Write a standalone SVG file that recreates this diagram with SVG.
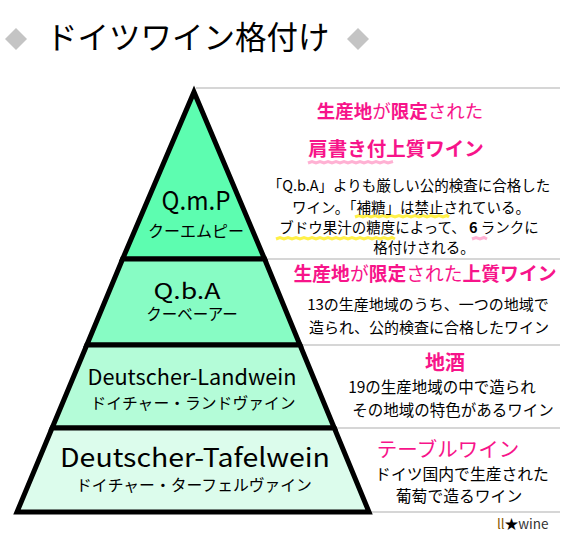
<svg xmlns="http://www.w3.org/2000/svg" width="566" height="539" viewBox="0 0 566 539">
<style>
text{font-family:"Noto Sans CJK JP","Noto Sans",sans-serif;fill:#000}
.tier{stroke:#000;stroke-width:5;stroke-linejoin:miter}
.sep{stroke:#c8c8c8;stroke-width:1.5;fill:none}
.pk{fill:#f7148a}
.b{font-weight:bold}
.mid{text-anchor:middle}
.hlp{stroke:#ff9ec8;stroke-width:3;fill:none;opacity:.8}
.hly{stroke:#ffee33;stroke-width:3;fill:none;opacity:.9}
</style>
<rect width="566" height="539" fill="#fff"/>
<g id="title">
<polygon points="16,28 27,39 16,50 5,39" fill="#c4c4c4"/>
<polygon points="358,28 369,39 358,50 347,39" fill="#c4c4c4"/>
<text x="46" y="49" font-size="31.5">ドイツワイン格付け</text>
</g>
<g id="connectors">
<line class="sep" x1="196" y1="88" x2="560" y2="88"/>
<line class="sep" x1="266" y1="259" x2="560" y2="259"/>
<line class="sep" x1="302" y1="345" x2="560" y2="345"/>
<line class="sep" x1="336" y1="428" x2="560" y2="428"/>
<line class="sep" x1="371" y1="512" x2="560" y2="512"/>
</g>
<g id="tier-qmp">
<polygon class="tier" points="194,92 264.6,259 122.6,259" fill="#5dfdb0"/>
<text class="mid" x="196" y="210" font-size="25" textLength="69" lengthAdjust="spacingAndGlyphs">Q.m.P</text>
<text class="mid" x="196" y="237" font-size="16">クーエムピー</text>
</g>
<g id="tier-qba">
<polygon class="tier" points="122.6,259 264.6,259 300,345 86.8,345" fill="#87fcc4"/>
<text class="mid" x="187" y="299" font-size="22" textLength="67" lengthAdjust="spacingAndGlyphs">Q.b.A</text>
<text class="mid" x="192" y="320" font-size="15.5">クーベーアー</text>
</g>
<g id="tier-landwein">
<polygon class="tier" points="86.8,345 300,345 334.3,428 52.1,428" fill="#b4fcd8"/>
<text class="mid" x="192" y="385" font-size="21" textLength="209" lengthAdjust="spacingAndGlyphs">Deutscher-Landwein</text>
<text class="mid" x="193" y="409" font-size="15.8">ドイチャー・ランドヴァイン</text>
</g>
<g id="tier-tafelwein">
<polygon class="tier" points="52.1,428 334.3,428 369,512 17,512" fill="#dcfcec"/>
<text class="mid" x="195" y="467" font-size="26" textLength="270" lengthAdjust="spacingAndGlyphs">Deutscher-Tafelwein</text>
<text class="mid" x="194" y="491" font-size="15.8">ドイチャー・ターフェルヴァイン</text>
</g>
<g id="desc-qmp">
<path class="hlp" d="M308,163 l4,-1.5 l4,1.5 l4,-1.5 l4,1.5 l4,-1.5 l4,1.5 l4,-1.5 l4,1.5 l4,-1.5 l4,1.5 l4,-1.5 l4,1.5 l4,-1.5 l4,1.5 l4,-1.5 l4,1.5 l4,-1.5 l4,1.5 l4,-1.5 l4,1.5 l5,-1.5"/>
<path class="hly" d="M355,217 l4,-1.5 l4,1.5 l4,-1.5 l4,1.5 l4,-1.5 l4,1.5 l4,-1.5 l4,1.5 l4,-1.5 l4,1.5 l4,-1.5 l4,1.5 l4,-1.5 l4,1.5 l4,-1.5 l4,1.5 l4,-1.5 l4,1.5 l4,-1.5 l4,1.5 l4,-1.5 l4,1.5 l4,-1.5 l2,1.5"/>
<path class="hly" d="M276,239 l4,-1.5 l4,1.5 l4,-1.5 l4,1.5 l4,-1.5 l4,1.5 l4,-1.5 l4,1.5 l4,-1.5 l4,1.5 l4,-1.5 l4,1.5 l4,-1.5 l4,1.5 l4,-1.5 l4,1.5 l4,-1.5 l4,1.5 l4,-1.5 l4,1.5 l4,-1.5 l4,1.5 l4,-1.5 l4,1.5 l4,-1.5 l4,1.5 l4,-1.5 l4,1.5 l4,-1.5 l3,1.5"/>
<path class="hlp" d="M472,239 l4,-1.5 l4,1.5 l4,-1.5 l3,1.5"/>
<text class="mid pk" x="400" y="118" font-size="18.5"><tspan class="b pk">生産地</tspan>が<tspan class="b pk">限定</tspan>された</text>
<text class="mid pk b" x="396" y="156" font-size="19.5">肩書き付上質ワイン</text>
<text class="mid" font-size="14.5"><tspan x="409" y="191">「Q.b.A」よりも厳しい公的検査に合格した</tspan><tspan x="411" y="213">ワイン。「補糖」は禁止されている。</tspan><tspan x="409" y="233">ブドウ果汁の糖度によって、 <tspan class="b">6</tspan> ランクに</tspan><tspan x="424" y="253">格付けされる。</tspan></text>
</g>
<g id="desc-qba">
<text class="mid pk" x="425" y="281" font-size="18.8"><tspan class="b pk">生産地</tspan>が<tspan class="b pk">限定</tspan>された<tspan class="b pk">上質ワイン</tspan></text>
<text class="mid" font-size="15"><tspan x="428" y="310">13の生産地域のうち、一つの地域で</tspan><tspan x="429" y="333">造られ、公的検査に合格したワイン</tspan></text>
</g>
<g id="desc-landwein">
<text class="mid pk b" x="445" y="370" font-size="20">地酒</text>
<text class="mid" font-size="15.5"><tspan x="442" y="393">19の生産地域の中で造られ</tspan><tspan x="453" y="416">その地域の特色があるワイン</tspan></text>
</g>
<g id="desc-tafelwein">
<text class="mid pk" x="448" y="457" font-size="20.5">テーブルワイン</text>
<text class="mid" font-size="15.8"><tspan x="462" y="480">ドイツ国内で生産された</tspan><tspan x="459" y="502">葡萄で造るワイン</tspan></text>
</g>
<g id="credit">
<text x="497" y="529" font-size="13.5"><tspan fill="#8b5a00">ll</tspan><tspan fill="#000">★</tspan><tspan fill="#333">wine</tspan></text>
</g>
</svg>
